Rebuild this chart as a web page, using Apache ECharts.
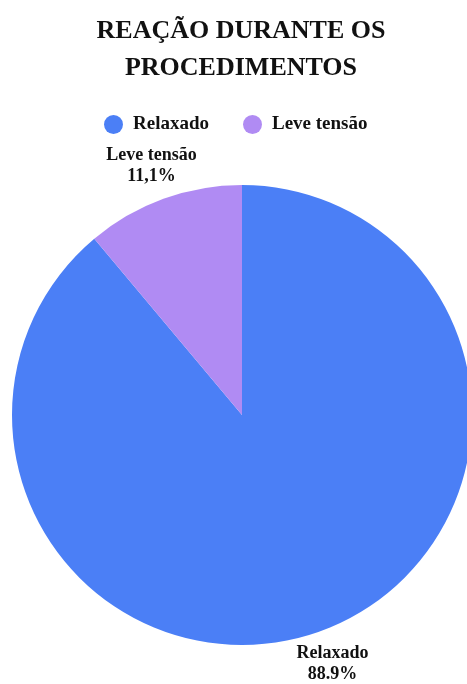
<!DOCTYPE html>
<html>
<head>
<meta charset="utf-8">
<style>
  html, body { margin: 0; padding: 0; background: #ffffff; }
  #chart { width: 467px; height: 684px; }
</style>
<script src="https://cdn.jsdelivr.net/npm/echarts@6/dist/echarts.min.js"></script>
</head>
<body>
<div id="chart"></div>
<script>
// Reaction categories and their shares (%)
const categories = ['Relaxado', 'Leve tensão'];
const shares = [88.9, 11.1];
const shareLabels = ['88.9%', '11,1%'];
const colors = ['#4b7ff6', '#b08bf3'];

const serifFont = '"Liberation Serif", "DejaVu Serif", serif';
const ink = '#111111';

const slices = categories.map((name, i) => ({
  name: name,
  value: shares[i],
  itemStyle: { color: colors[i] }
}));

const chart = echarts.init(document.getElementById('chart'), null, { renderer: 'canvas' });

chart.setOption({
  backgroundColor: '#ffffff',
  animation: false,
  title: {
    text: 'REAÇÃO DURANTE OS\nPROCEDIMENTOS',
    left: 236,
    top: 8,
    textAlign: 'center',
    textStyle: {
      fontFamily: serifFont,
      fontWeight: 'bold',
      fontSize: 26,
      lineHeight: 37,
      color: ink
    }
  },
  legend: {
    data: categories,
    top: 110,
    left: 99,
    icon: 'circle',
    itemWidth: 19,
    itemHeight: 19,
    itemGap: 34,
    textStyle: {
      fontFamily: serifFont,
      fontWeight: 'bold',
      fontSize: 19,
      color: ink,
      padding: [0, 0, 0, 5]
    }
  },
  series: [
    {
      type: 'pie',
      center: [242, 415],
      radius: [0, 230],
      startAngle: 90,
      clockwise: true,
      silent: true,
      label: { show: false },
      labelLine: { show: false },
      data: slices
    },
    {
      // transparent ring that carries the slice labels just outside the pie
      type: 'pie',
      center: [242, 415],
      radius: [252, 272],
      startAngle: 90,
      clockwise: true,
      silent: true,
      itemStyle: { color: 'rgba(0,0,0,0)' },
      label: {
        show: true,
        position: 'inside',
        fontFamily: serifFont,
        fontWeight: 'bold',
        fontSize: 18,
        lineHeight: 21,
        color: ink,
        formatter: p => p.name + '\n' + shareLabels[p.dataIndex]
      },
      labelLine: { show: false },
      data: categories.map((name, i) => ({ name: name, value: shares[i] }))
    }
  ]
});
</script>
</body>
</html>
